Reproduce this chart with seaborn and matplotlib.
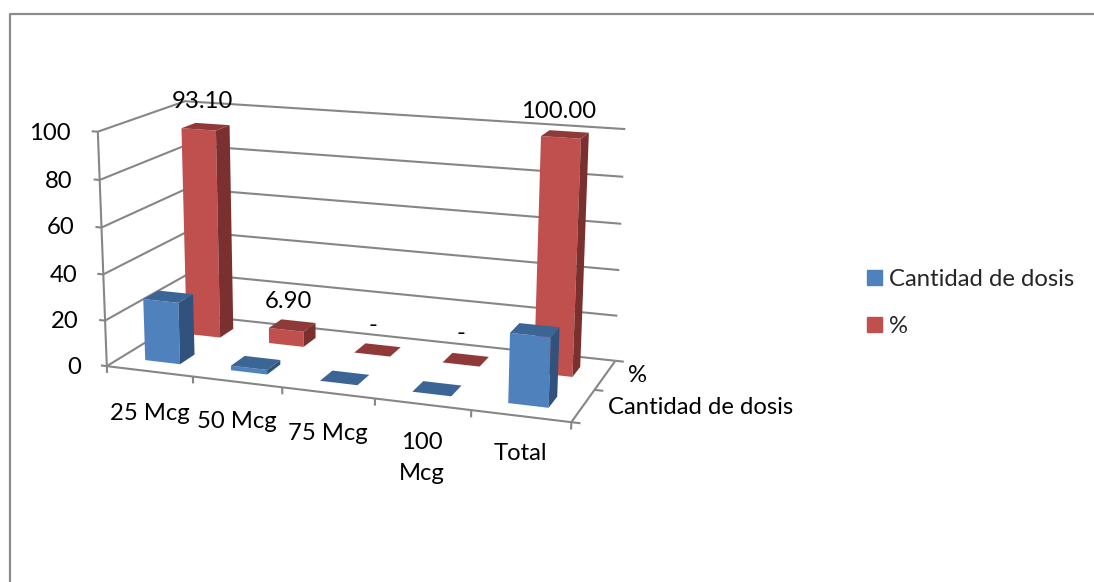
import numpy as np
import matplotlib
matplotlib.use('Agg')
import matplotlib.pyplot as plt
from matplotlib.lines import Line2D
from matplotlib.patches import Patch
import seaborn as sns

categories = ['25 Mcg', '50 Mcg', '75 Mcg', '100\nMcg', 'Total']
series_names = ['Cantidad de dosis', '%']
cantidad = [27, 2, 0, 0, 29]
porcentaje = [93.10, 6.90, 0, 0, 100.00]
z_ticks = [0, 20, 40, 60, 80, 100]

W, H = 1094, 582
sns.set_theme(style='white')
plt.rcParams['font.family'] = ['Lato', 'DejaVu Sans']
FS = 17.2
GRID = '#868686'
blue, red = sns.color_palette(['#4F81BD', '#C0504D'])
hidden = (0, 0, 0, 0)


def faces(front, top, side):
    # bar3d face order: -z, +z, -y, +y, -x, +x
    return [hidden, top, front, hidden, hidden, side]


blue_faces = faces('#4F81BD', '#3A6595', '#30527C')
red_faces = faces('#C0504D', '#8F3A38', '#7A302E')

fig = plt.figure(figsize=(W / 100, H / 100), dpi=100)
ax = fig.add_axes([0, 0, 1, 1], projection='3d', computed_zorder=False)
ax.apply_aspect = lambda position=None: None
ax.set_axis_off()

# camera fitted on the corners of the plot box as seen in the picture
world = [(0, 0, 0), (0, 0, 100), (0, 2, 0), (0, 2, 100),
         (5, 2, 0), (5, 2, 100), (5, 0, 0)]
seen = [(107, 366), (97, 132), (190, 315), (186, 101),
        (615, 361), (625, 129), (572, 422)]
view = ax.transData.inverted().transform([(px, H - py) for px, py in seen])
A, b = [], []
for (x, y, z), (u, v) in zip(world, view):
    A.append([x, y, z, 1, 0, 0, 0, 0, -u * x, -u * y, -u * z])
    A.append([0, 0, 0, 0, x, y, z, 1, -v * x, -v * y, -v * z])
    b += [u, v]
p = np.linalg.lstsq(np.array(A), np.array(b), rcond=None)[0]
# depth row stays negative, mplot3d drops line points with z > 0
M = np.array([p[:4], p[4:8], [0, -0.1, 0, -0.2], [p[8], p[9], p[10], 1]])
ax.get_proj = lambda: M


def line(xs, ys, zs, lw=1.5):
    ax.plot(xs, ys, zs, color=GRID, lw=lw, zorder=1, solid_capstyle='butt')


for z in z_ticks:
    line([0, 0, 5], [0, 2, 2], [z, z, z])
    line([-0.07, 0], [0, 0], [z, z])
line([0, 0], [0, 0], [0, 100])
line([0, 5, 5], [0, 0, 2], [0, 0, 0])
for i in range(6):
    line([i, i], [0, 0], [0, -3])
for d in range(3):
    line([5, 5.09], [d, d], [0, 0])

# bars, back series first
width = 0.41
for k, (vals, cols) in enumerate([(porcentaje, red_faces), (cantidad, blue_faces)]):
    row = 1 - k
    for i, val in enumerate(vals):
        ax.bar3d(i + 0.49 - width / 2, row + 0.32, 0, width, 0.35, val,
                 color=cols, shade=False, linewidth=0, zorder=2 + k)


def px_text(px, py, s, **kw):
    fig.text(px / W, 1 - py / H, s, fontsize=FS, color='black',
             ha=kw.pop('ha', 'center'), va='center', linespacing=1.6, **kw)


tick_pos = [(81, 367), (79, 322), (77, 275), (75, 228), (73, 182), (71, 133)]
for z, (px, py) in zip(z_ticks, tick_pos):
    px_text(px, py, str(z), ha='right')

cat_pos = [(150, 414), (237, 421), (328, 433), (422, 458), (520, 454)]
for (px, py), cat in zip(cat_pos, categories):
    px_text(px, py, cat)

# value labels of the % series only
label_pos = [(202, 101), (288, 302), (373, 326), (461, 334), (559, 112)]
for (px, py), val in zip(label_pos, porcentaje):
    px_text(px, py, f'{val:.2f}' if val else '-')

px_text(628, 375, series_names[1], ha='left')
px_text(608, 407, series_names[0], ha='left')

fig.legend(handles=[Patch(color=blue, label=series_names[0]),
                    Patch(color=red, label=series_names[1])],
           loc='upper left', bbox_to_anchor=(867 / W, 1 - 269 / H), frameon=False,
           fontsize=FS, handlelength=0.63, handleheight=0.63, handletextpad=0.3,
           labelspacing=1.09, borderpad=0, borderaxespad=0)

# outer chart border
fig.add_artist(Line2D([9.5 / W, 9.5 / W, 1], [0, 1 - 14 / H, 1 - 14 / H],
                      color='#8C8C8C', lw=1.6))

fig.savefig('out.png', dpi=100)
